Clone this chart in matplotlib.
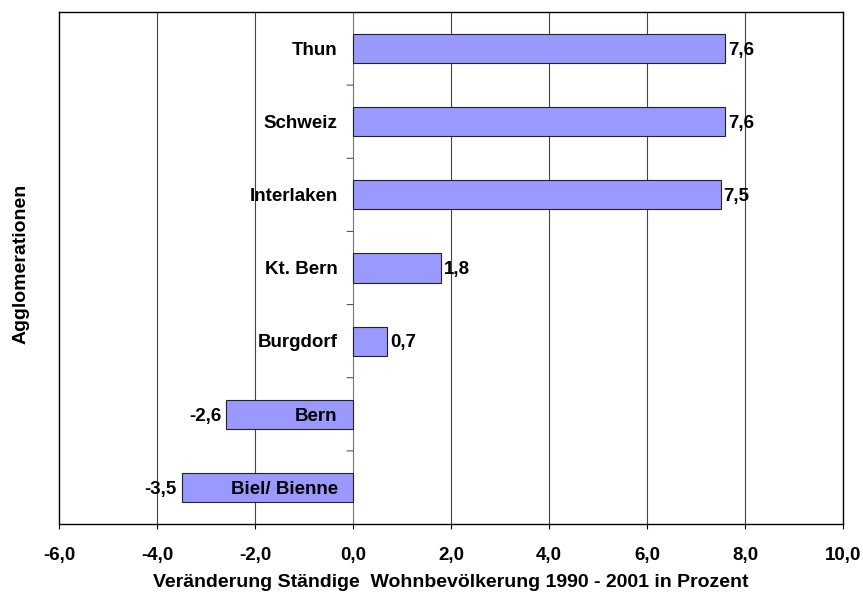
import matplotlib
matplotlib.use('Agg')
import matplotlib.pyplot as plt

plt.rcParams['font.family'] = ['Liberation Sans', 'DejaVu Sans']
plt.rcParams['font.weight'] = 'bold'

categories = ['Thun', 'Schweiz', 'Interlaken', 'Kt. Bern', 'Burgdorf', 'Bern', 'Biel/ Bienne']
values = [7.6, 7.6, 7.5, 1.8, 0.7, -2.6, -3.5]
value_labels = ['7,6', '7,6', '7,5', '1,8', '0,7', '-2,6', '-3,5']
x_ticks = [-6, -4, -2, 0, 2, 4, 6, 8, 10]
x_tick_labels = ['-6,0', '-4,0', '-2,0', '0,0', '2,0', '4,0', '6,0', '8,0', '10,0']

FS = 13.5
W, H = 863, 594
fig = plt.figure(figsize=(W / 100, H / 100), dpi=100)
ax = fig.add_axes([59 / W, (H - 524) / H, 784 / W, 512 / H])

ypos = list(range(len(categories)))
ax.barh(ypos, values, height=0.4, color='#9999ff', edgecolor='#222222', linewidth=0.8, zorder=3)

ax.set_xlim(-6, 10)
ax.set_ylim(len(categories) - 0.5, -0.5)

# vertical gridlines, frame edges excluded
for xv in x_ticks[1:-1]:
    ax.axvline(xv, color='#444444' if xv != 0 else '#777777', linewidth=0.8, zorder=1)

ax.set_xticks(x_ticks)
ax.set_xticklabels(x_tick_labels, fontsize=FS, fontweight='bold')
ax.tick_params(axis='x', direction='out', length=3.6, width=0.8, pad=13)
ax.set_yticks([])

# small ticks on the zero axis between categories
for b in [i + 0.5 for i in range(len(categories) - 1)]:
    ax.annotate('', xy=(0, b), xytext=(-4.3, 0), textcoords='offset points',
                arrowprops=dict(arrowstyle='-', color='#555555', lw=0.8,
                                shrinkA=0, shrinkB=0))

for sp in ax.spines.values():
    sp.set_linewidth(1.0)
    sp.set_color('black')

dy = -1.3
for y, v, cat, lab in zip(ypos, values, categories, value_labels):
    ax.annotate(cat, xy=(0, y), xytext=(-11, dy), textcoords='offset points',
                ha='right', va='center', fontsize=FS, fontweight='bold', zorder=5)
    if v >= 0:
        ax.annotate(lab, xy=(v, y), xytext=(2, dy), textcoords='offset points',
                    ha='left', va='center', fontsize=FS, fontweight='bold', zorder=5)
    else:
        ax.annotate(lab, xy=(v, y), xytext=(-3.3, dy), textcoords='offset points',
                    ha='right', va='center', fontsize=FS, fontweight='bold', zorder=5)

ax.set_xlabel('Veränderung Ständige  Wohnbevölkerung 1990 - 2001 in Prozent',
              fontsize=14, fontweight='bold', labelpad=7)
fig.text(21 / W, 1 - 264 / H, 'Agglomerationen', rotation=90, ha='center', va='center',
         fontsize=14, fontweight='bold')

fig.savefig('out.png', dpi=100)
